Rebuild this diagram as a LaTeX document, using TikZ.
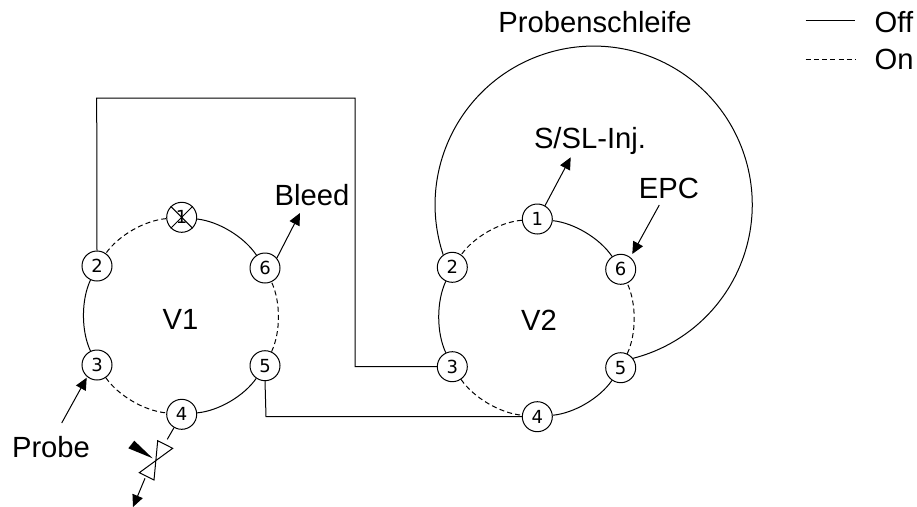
\documentclass[tikz,border=0pt]{standalone}
\usepackage{fontspec}
\setmainfont{Liberation Sans}
\newfontfamily\numfont{DejaVu Sans}
\usetikzlibrary{arrows.meta}
\tikzset{
  x=1pt,y=-1pt,
  port/.style={circle,draw,fill=white,line width=1pt,minimum size=30pt,inner sep=0pt,font=\numfont\fontsize{18}{18}\selectfont},
  lab/.style={font=\fontsize{29.2}{29.2}\selectfont,inner sep=0pt,anchor=center},
  pipe/.style={line width=1pt},
  ondash/.style={line width=1pt,dash pattern=on 5pt off 3.2pt},
  arr/.style={line width=1pt,-{Triangle[length=12pt,width=11pt]}},
  off/.style={pipe,bend right=25,looseness=0.8},
  onn/.style={ondash,bend right=25,looseness=0.8}
}
\begin{document}
\begin{tikzpicture}
\useasboundingbox (0,0) rectangle (917,506);
\clip (0,0) rectangle (917,506);
% V1 ports
\node[port] (a1) at (181.7,217.3) {1};
\node[port] (a2) at (97,266) {2};
\node[port] (a3) at (97,365) {3};
\node[port] (a4) at (181.7,414.3) {4};
\node[port] (a5) at (265,365.7) {5};
\node[port] (a6) at (265,268) {6};
% V2 ports
\node[port] (b1) at (537.3,219) {1};
\node[port] (b2) at (452.3,267.3) {2};
\node[port] (b3) at (452.3,366.7) {3};
\node[port] (b4) at (537.3,416.7) {4};
\node[port] (b5) at (620.7,367.7) {5};
\node[port] (b6) at (620.7,269.3) {6};
% rings
\draw[onn] (a1) to (a2);
\draw[off] (a2) to (a3);
\draw[onn] (a3) to (a4);
\draw[off] (a4) to (a5);
\draw[onn] (a5) to (a6);
\draw[off] (a6) to (a1);
\draw[onn] (b1) to (b2);
\draw[off] (b2) to (b3);
\draw[onn] (b3) to (b4);
\draw[off] (b4) to (b5);
\draw[onn] (b5) to (b6);
\draw[off] (b6) to (b1);
% cross on V1 port 1
\draw[pipe] (a1.north west) -- (a1.south east) (a1.north east) -- (a1.south west);
% plumbing
\coordinate (t1) at (96.7,98);
\coordinate (t2) at (355,98);
\coordinate (t3) at (355,366.7);
\draw[pipe] (a2.north) -- (t1) -- (t2) -- (t3) -- (b3.west);
\coordinate (u1) at (266,416.7);
\draw[pipe] (a5.south) -- (u1) -- (b4.west);
\draw[pipe] (b2.126) arc[start angle=161.6,end angle=435.8,radius=158.6];
% labels
\node[lab] (pl) at (595,22) {Probenschleife};
\node[lab] (v1) at (180.5,319) {V1};
\node[lab] (v2) at (539,320) {V2};
\node[lab] (bl) at (312,195) {Bleed};
\node[lab] (ss) at (590,141) {S/SL-Inj.};
\node[lab] (ep) at (669,188) {EPC};
\node[lab] (pr) at (51,447) {Probe};
\node[lab,anchor=west] (of) at (874.5,22) {Off};
\node[lab,anchor=west] (on) at (874.5,59) {On};
\coordinate (l1) at (805.7,20.7);
\coordinate (l1e) at (855,20.7);
\coordinate (l2) at (805.7,59);
\coordinate (l2e) at (855,59);
\draw[pipe] (l1) -- (l1e);
\draw[ondash] (l2) -- (l2e);
% arrows
\coordinate (bt) at (300,213);
\draw[arr] (a6.40) -- (bt);
\coordinate (st) at (570.7,157.3);
\draw[arr] (b1.60) -- (st);
\coordinate (es) at (659.3,205);
\coordinate (et) at (632.3,254);
\draw[arr] (es) -- (et);
\coordinate (ps) at (61.7,423);
\coordinate (pt) at (86.7,377.7);
\draw[arr] (ps) -- (pt);
% valve
\draw[pipe] (a4.240) -- (167.3,439.3);
\draw[pipe,fill=white] (157.7,440.7) -- (172.7,448.3) -- (139.3,472.7) -- (154,480) -- cycle;
\coordinate (vb) at (145,478.3);
\coordinate (vt) at (133,507);
\draw[arr] (vb) -- (vt);
\fill (152.7,458.3) -- (128.3,448.3) -- (134.3,440.7) -- cycle;
\end{tikzpicture}
\end{document}
